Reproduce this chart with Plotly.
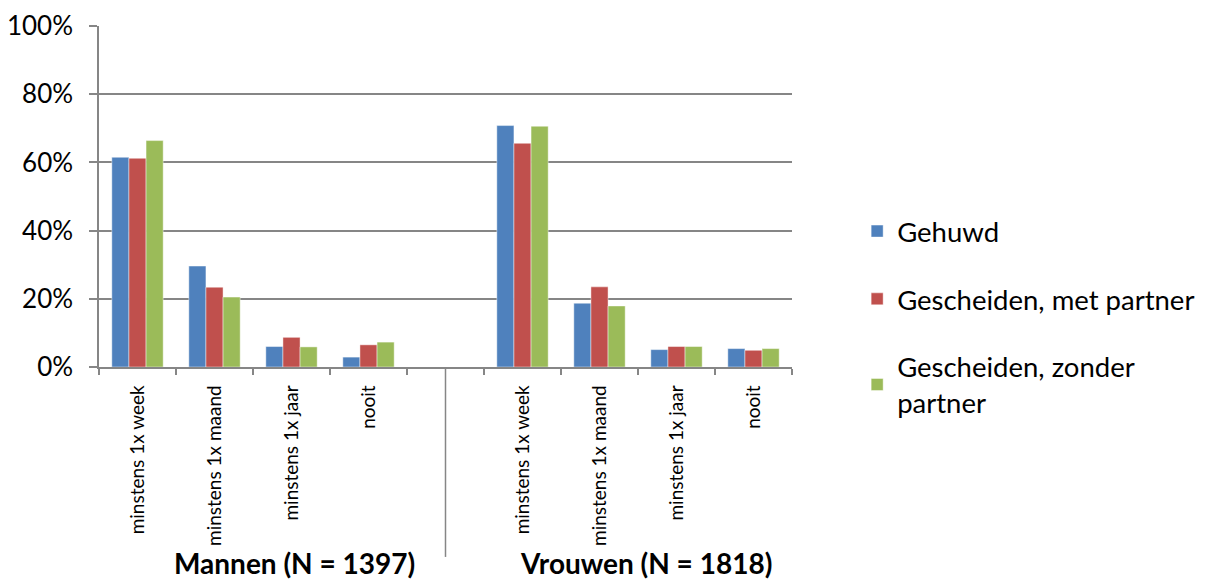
import plotly.graph_objects as go

categories = ["minstens 1x week", "minstens 1x maand", "minstens 1x jaar", "nooit", "",
              "minstens 1x week", "minstens 1x maand", "minstens 1x jaar", "nooit"]
series_names = ["Gehuwd", "Gescheiden, met partner", "Gescheiden, zonder<br>partner"]
gehuwd = [61.5, 29.6, 6.0, 2.9, None, 70.8, 18.7, 5.1, 5.4]
met_partner = [61.2, 23.4, 8.7, 6.5, None, 65.6, 23.5, 6.0, 4.9]
zonder_partner = [66.4, 20.5, 5.9, 7.3, None, 70.6, 17.9, 6.0, 5.4]
colors = ["#4F81BD", "#C0504D", "#9BBB59"]
groups = ["Mannen (N = 1397)", "Vrouwen (N = 1818)"]
group_centers = [2.04, 6.6]
y_ticks = [0, 20, 40, 60, 80, 100]
y_tick_labels = ["0%", "20%", "40%", "60%", "80%", "100%"]

x = list(range(len(categories)))
label_idx = [i for i, c in enumerate(categories) if c]

fig = go.Figure()
for name, vals, col in zip(series_names, [gehuwd, met_partner, zonder_partner], colors):
    fig.add_trace(go.Bar(
        x=x, y=vals, name=name, legendgroup=name,
        marker=dict(color=col, line=dict(color="rgba(255,255,255,0.55)", width=0.8)),
    ))

axis_col = "#868686"
# the page body has an 8px margin; margins below compensate for it
fig.update_layout(
    width=1203, height=573,
    margin=dict(l=91, r=419, t=18, b=214, autoexpand=False),
    paper_bgcolor="white", plot_bgcolor="white",
    barmode="group", bargap=0.333, bargroupgap=0,
    font=dict(family="Lato", color="black"),
    showlegend=True,
    legend=dict(x=1.094, y=0.47, xanchor="left", yanchor="top",
                font=dict(size=27.5, family="Lato"), tracegroupgap=29,
                itemwidth=30, bgcolor="rgba(0,0,0,0)"),
    xaxis=dict(
        range=[-0.5, 8.5], automargin=False,
        tickmode="array", tickvals=label_idx, ticktext=[categories[i] for i in label_idx],
        tickangle=-90, ticks="", showgrid=False, zeroline=False,
        showline=True, linecolor=axis_col, linewidth=1.5,
        tickfont=dict(size=19, family="Lato"),
        ticklabelstandoff=9,
        minor=dict(tickmode="array", tickvals=[v - 0.5 for v in range(len(categories) + 1)],
                   ticks="outside", ticklen=6, tickcolor=axis_col, tickwidth=1.5, showgrid=False),
    ),
    yaxis=dict(
        range=[0, 100], automargin=False, tickmode="array", tickvals=y_ticks, ticktext=y_tick_labels,
        showgrid=True, gridcolor=axis_col, gridwidth=1.5, zeroline=False,
        showline=True, linecolor=axis_col, linewidth=1.5,
        ticks="outside", ticklen=8, tickcolor=axis_col, tickwidth=1.5,
        tickfont=dict(size=26, family="Lato"), ticklabelstandoff=11,
    ),
)

# group separator line below the category axis
fig.add_shape(type="line", xref="x", yref="paper", x0=4, x1=4, y0=0, y1=-0.557,
              line=dict(color=axis_col, width=1.5))

for g, cx in zip(groups, group_centers):
    fig.add_annotation(x=cx, xref="x", y=-0.575, yref="paper", text="<b>%s</b>" % g,
                       showarrow=False, font=dict(size=28, family="Lato", color="black"),
                       xanchor="center", yanchor="middle")

fig.write_html("out.html")
